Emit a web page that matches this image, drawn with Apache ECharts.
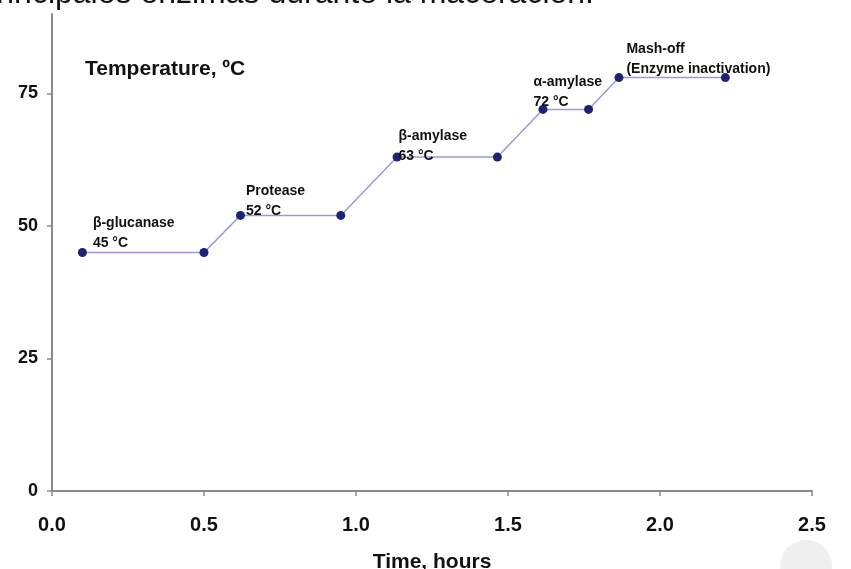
<!DOCTYPE html>
<html><head><meta charset="utf-8">
<script src="https://cdn.jsdelivr.net/npm/echarts@6/dist/echarts.min.js"></script>
<style>html,body{margin:0;padding:0;background:#fff}#c{width:851px;height:569px}</style>
</head><body><div id="c"></div>
<script>
const timeHours = [0.1, 0.5, 0.62, 0.95, 1.135, 1.465, 1.615, 1.765, 1.865, 2.215];
const tempC = [45, 45, 52, 52, 63, 63, 72, 72, 78, 78];
const stageLabels = ['β-glucanase\n45 °C', '', 'Protease\n52 °C', '', 'β-amylase\n63 °C', '', 'α-amylase\n72 °C', '', 'Mash-off\n(Enzyme inactivation)', ''];
const labelOffsets = [[15, 5], null, [10, 10], null, [6, 14], null, [-5, 7], null, [12, 6], null];
const yTicks = [0, 25, 50, 75];
const xTicks = [0, 0.5, 1.0, 1.5, 2.0, 2.5];

const FONT = 'Liberation Sans, Arial, sans-serif';
const data = timeHours.map((t, i) => {
  const item = { value: [t, tempC[i]] };
  if (stageLabels[i]) {
    item.label = {
      show: true, formatter: stageLabels[i], position: labelOffsets[i],
      align: 'left', verticalAlign: 'bottom', fontFamily: FONT, fontWeight: 'bold',
      fontSize: 14, lineHeight: 20, color: '#111'
    };
  }
  return item;
});

const chart = echarts.init(document.getElementById('c'), null, { renderer: 'canvas' });
chart.setOption({
  animation: false,
  backgroundColor: '#fff',
  title: {
    text: 'Temperature, ºC', left: 80, top: 54,
    textStyle: { fontFamily: FONT, fontWeight: 'bold', fontSize: 21, color: '#111' }
  },
  graphic: [
    { type: 'text', left: -25, top: -22, style: { text: 'Principales enzimas durante la maceración.', font: '32px ' + FONT, fill: '#111' } },
    { type: 'circle', shape: { cx: 806, cy: 566, r: 26 }, style: { fill: '#efefef' } }
  ],
  grid: { left: 52, right: 39, top: 14, bottom: 78, containLabel: false, outerBoundsMode: 'none' },
  xAxis: {
    type: 'value', min: 0, max: 2.5, interval: 0.5,
    name: 'Time, hours', nameLocation: 'middle', nameGap: 61,
    nameTextStyle: { fontFamily: FONT, fontWeight: 'bold', fontSize: 21, color: '#111' },
    axisLine: { show: true, lineStyle: { color: '#8a8a8a', width: 2 } },
    axisTick: { show: true, length: 5, lineStyle: { color: '#8a8a8a', width: 1.5 } },
    axisLabel: { margin: 24, fontFamily: FONT, fontWeight: 'bold', fontSize: 20, color: '#111',
      formatter: v => v.toFixed(1) },
    splitLine: { show: false }
  },
  yAxis: {
    type: 'value', min: 0, max: 90,
    axisLine: { show: true, lineStyle: { color: '#8a8a8a', width: 2 } },
    axisTick: { show: true, length: 5, customValues: yTicks, lineStyle: { color: '#8a8a8a', width: 1.5 } },
    axisLabel: { customValues: yTicks, margin: 14, fontFamily: FONT, fontWeight: 'bold', fontSize: 18, color: '#111' },
    splitLine: { show: false }
  },
  series: [{
    type: 'line', data: data, symbol: 'circle', symbolSize: 9,
    lineStyle: { color: '#9a9ad8', width: 1.5 },
    itemStyle: { color: '#1e2275' },
    label: { show: false }
  }]
});
</script></body></html>
